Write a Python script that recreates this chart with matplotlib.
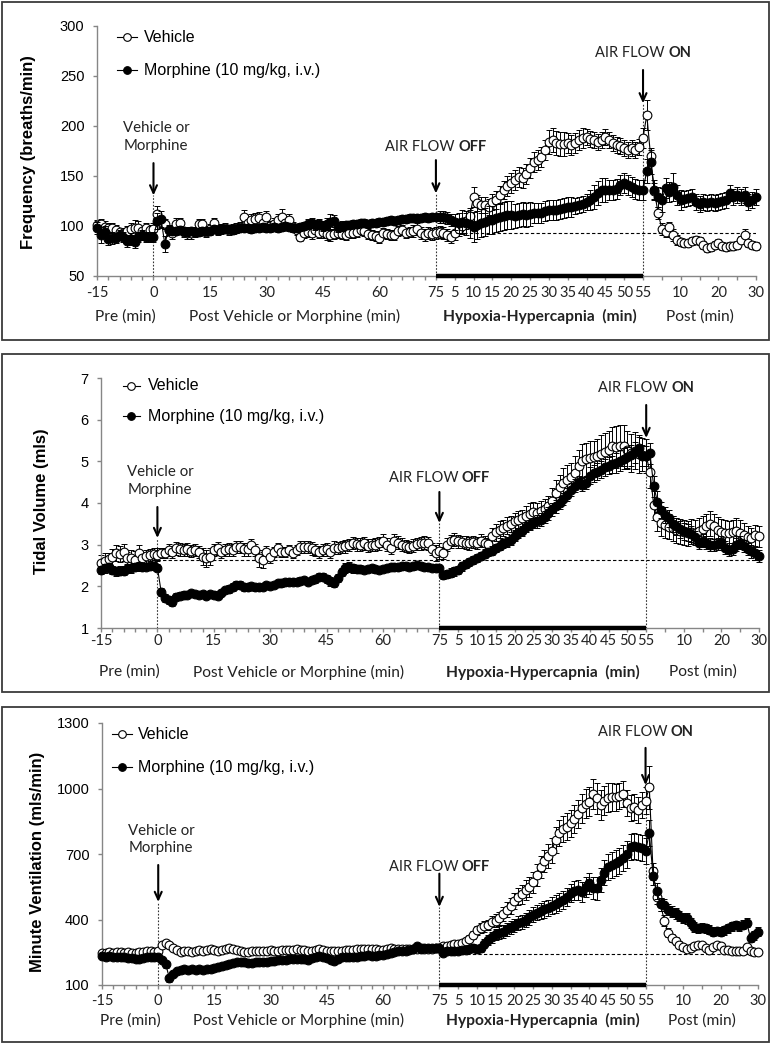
import numpy as np
import matplotlib
matplotlib.use("Agg")
import matplotlib.pyplot as plt
from matplotlib.patches import Rectangle
from matplotlib.lines import Line2D
from matplotlib.transforms import blended_transform_factory, offset_copy

# ---------------- data (one value per minute) ----------------
# index: -15..0 pre, 1..75 post drug, 76..130 hypoxia-hypercapnia (1..55), 131..160 post (1..30)
minutes = np.arange(-15, 161)

freq_vehicle = [
    101, 102, 99, 98, 98, 96, 94, 93, 95, 97, 98, 98, 95, 98, 96, 97,
    112, 104, 102, 96, 93, 102, 103, 94, 93, 93,
    94, 102, 102, 94, 97, 103, 96, 97, 98, 96,
    97, 98, 99, 109, 103, 106, 107, 108, 103, 109,
    100, 102, 106, 109, 103, 106, 99, 96, 89, 93,
    94, 93, 96, 93, 94,
    92, 91, 92, 93, 92, 91, 93, 93, 94, 96,
    95, 92, 91, 90, 88, 93, 92, 91, 91, 95,
    96, 93, 94, 95, 97, 93, 91, 93, 92, 93,
    94, 93, 91, 89, 93, 97, 100, 105, 110, 129,
    123, 121, 121, 119, 124, 126, 131, 136, 140, 143,
    146, 149, 148, 152, 158, 164, 166, 169, 176, 184,
    186, 183, 182, 182, 183, 181, 183, 186, 188, 189,
    187, 186, 184, 186, 189, 186, 183, 181, 180, 178,
    176, 178, 176, 179, 188,
    211, 170, 135, 113, 97, 94, 99, 91, 86, 84,
    83, 83, 85, 86, 85, 81, 78, 79, 81, 83,
    80, 79, 80, 80, 81, 86, 91, 83, 81, 80]
freq_vehicle_sem = [
    5, 5, 6, 5, 5, 5, 4, 5, 5, 6, 8, 7, 5, 5, 5, 6,
    8, 6, 5, 5, 6, 6, 5, 5, 6, 6,
    5, 5, 5, 5, 5, 5, 5, 5, 5, 5,
    5, 5, 5, 7, 6, 6, 6, 6, 6, 6,
    5, 6, 6, 8, 6, 6, 5, 5, 4, 5,
    5, 6, 5, 5, 6,
    6, 6, 5, 5, 5, 5, 5, 5, 5, 5,
    5, 5, 5, 5, 5, 5, 5, 5, 5, 5,
    5, 5, 5, 6, 6, 6, 6, 6, 6, 6,
    6, 6, 6, 6, 7, 7, 7, 8, 8, 10,
    8, 8, 8, 8, 8, 9, 9, 9, 10, 10,
    10, 10, 10, 10, 10, 10, 10, 10, 10, 12,
    12, 12, 12, 12, 10, 10, 10, 10, 10, 8,
    8, 8, 8, 8, 8, 8, 8, 8, 8, 8,
    8, 8, 8, 8, 10,
    15, 8, 8, 6, 6, 5, 5, 6, 5, 4,
    4, 4, 4, 4, 4, 4, 4, 4, 4, 4,
    4, 4, 4, 4, 4, 4, 6, 4, 4, 4]
freq_morphine = [
    98, 91, 94, 87, 88, 88, 91, 89, 85, 87, 84, 89, 91, 89, 89, 89,
    105, 107, 82, 96, 95, 95, 96, 95, 94, 95,
    94, 94, 95, 95, 95, 97, 96, 97, 97, 97,
    96, 97, 98, 98, 98, 97, 98, 98, 99, 98,
    98, 99, 98, 99, 100, 99, 98, 98, 99, 100,
    102, 103, 101, 102, 100,
    102, 104, 105, 99, 100, 101, 101, 102, 102, 103,
    103, 102, 103, 103, 104, 104, 105, 106, 105, 106,
    107, 107, 108, 108, 108, 108, 109, 108, 109, 109,
    109, 109, 108, 106, 104, 103, 104, 103, 102, 99,
    101, 103, 104, 106, 106, 108, 109, 110, 111, 111,
    110, 111, 112, 111, 112, 113, 113, 113, 115, 116,
    116, 116, 117, 118, 119, 119, 120, 121, 122, 124,
    126, 129, 133, 136, 136, 136, 136, 137, 141, 143,
    141, 139, 137, 136, 136,
    155, 164, 136, 129, 126, 138, 134, 139, 131, 126,
    127, 128, 129, 124, 122, 124, 123, 124, 123, 124,
    125, 126, 133, 129, 131, 129, 131, 124, 126, 129]
freq_morphine_sem = [
    6, 8, 6, 6, 6, 5, 5, 5, 6, 6, 6, 5, 5, 5, 5, 5,
    8, 8, 8, 5, 4, 4, 4, 4, 4, 4,
    4, 4, 4, 4, 4, 4, 4, 4, 4, 4,
    4, 4, 4, 4, 4, 4, 4, 4, 4, 4,
    4, 4, 4, 4, 4, 4, 4, 4, 4, 4,
    5, 5, 5, 5, 5,
    6, 8, 6, 5, 5, 4, 4, 4, 4, 4,
    4, 4, 4, 4, 4, 4, 4, 4, 4, 4,
    4, 4, 4, 4, 4, 4, 4, 4, 4, 4,
    6, 6, 6, 6, 8, 10, 12, 12, 14, 15,
    14, 14, 14, 14, 14, 14, 14, 14, 14, 14,
    12, 12, 12, 12, 12, 10, 10, 10, 10, 10,
    10, 10, 10, 10, 10, 10, 8, 8, 8, 8,
    10, 12, 12, 12, 12, 10, 10, 10, 10, 10,
    10, 10, 10, 10, 10,
    12, 12, 10, 10, 12, 10, 10, 14, 10, 10,
    8, 8, 8, 8, 8, 8, 8, 8, 8, 8,
    8, 8, 8, 8, 8, 8, 8, 8, 8, 8]

tv_vehicle = [
    2.55, 2.60, 2.65, 2.70, 2.80, 2.78, 2.82, 2.68, 2.67, 2.64, 2.80, 2.68, 2.72, 2.75, 2.78, 2.76,
    2.79, 2.81, 2.87, 2.83, 2.91, 2.89, 2.87, 2.89, 2.85, 2.87,
    2.83, 2.71, 2.67, 2.71, 2.87, 2.91, 2.83, 2.87, 2.89, 2.87,
    2.95, 2.94, 2.89, 2.89, 2.99, 2.87, 2.67, 2.63, 2.83, 2.71,
    2.83, 2.91, 2.83, 2.83, 2.87, 2.79, 2.87, 2.95, 2.95, 2.94,
    2.91, 2.87, 2.83, 2.87, 2.89,
    2.83, 2.93, 2.92, 2.94, 2.96, 2.99, 3.04, 3.01, 3.00, 3.03,
    2.98, 2.99, 3.00, 3.03, 3.10, 3.00, 2.92, 3.10, 3.05, 3.00,
    2.97, 2.95, 2.98, 3.02, 3.03, 3.05, 3.03, 2.90, 2.80, 2.85,
    2.80, 3.00, 3.08, 3.12, 3.08, 3.07, 3.05, 3.03, 3.06, 3.04,
    3.10, 3.05, 3.02, 3.20, 3.30, 3.36, 3.40, 3.46, 3.50, 3.56,
    3.60, 3.63, 3.68, 3.74, 3.78, 3.76, 3.80, 3.85, 3.92, 4.05,
    4.25, 4.38, 4.48, 4.56, 4.62, 4.72, 4.88, 5.02, 5.05, 5.08,
    5.10, 5.14, 5.18, 5.22, 5.28, 5.37, 5.35, 5.38, 5.38, 5.27,
    5.20, 5.26, 5.18, 5.16, 5.13,
    4.75, 3.95, 3.67, 3.52, 3.47, 3.43, 3.39, 3.35, 3.32, 3.30,
    3.27, 3.31, 3.29, 3.33, 3.38, 3.44, 3.50, 3.44, 3.36, 3.31,
    3.29, 3.27, 3.30, 3.34, 3.29, 3.23, 3.19, 3.15, 3.23, 3.20]
tv_vehicle_sem = [
    0.20, 0.20, 0.15, 0.20, 0.20, 0.20, 0.20, 0.15, 0.20, 0.20, 0.20, 0.15, 0.15, 0.15, 0.15, 0.15,
    0.12, 0.12, 0.15, 0.15, 0.15, 0.15, 0.15, 0.15, 0.15, 0.15,
    0.15, 0.20, 0.20, 0.20, 0.15, 0.15, 0.15, 0.15, 0.15, 0.15,
    0.15, 0.15, 0.15, 0.15, 0.15, 0.15, 0.20, 0.20, 0.15, 0.15,
    0.12, 0.12, 0.12, 0.12, 0.12, 0.12, 0.12, 0.15, 0.15, 0.15,
    0.15, 0.15, 0.15, 0.15, 0.15,
    0.15, 0.15, 0.15, 0.15, 0.15, 0.15, 0.15, 0.15, 0.15, 0.15,
    0.15, 0.15, 0.15, 0.15, 0.15, 0.15, 0.15, 0.15, 0.15, 0.15,
    0.15, 0.15, 0.15, 0.15, 0.15, 0.15, 0.15, 0.15, 0.20, 0.20,
    0.15, 0.15, 0.15, 0.15, 0.15, 0.15, 0.15, 0.15, 0.15, 0.15,
    0.15, 0.15, 0.15, 0.20, 0.20, 0.20, 0.20, 0.20, 0.20, 0.20,
    0.20, 0.20, 0.25, 0.25, 0.25, 0.25, 0.25, 0.25, 0.25, 0.30,
    0.30, 0.30, 0.35, 0.35, 0.35, 0.40, 0.40, 0.40, 0.40, 0.40,
    0.40, 0.40, 0.45, 0.45, 0.45, 0.45, 0.50, 0.50, 0.50, 0.45,
    0.45, 0.45, 0.45, 0.40, 0.40,
    0.40, 0.35, 0.35, 0.30, 0.30, 0.30, 0.30, 0.30, 0.30, 0.30,
    0.30, 0.30, 0.30, 0.30, 0.30, 0.30, 0.30, 0.30, 0.30, 0.30,
    0.30, 0.30, 0.30, 0.30, 0.30, 0.30, 0.25, 0.25, 0.25, 0.25]
tv_morphine = [
    2.39, 2.43, 2.47, 2.40, 2.36, 2.38, 2.38, 2.42, 2.43, 2.46, 2.48, 2.46, 2.47, 2.49, 2.50, 2.45,
    1.87, 1.72, 1.68, 1.62, 1.75, 1.78, 1.80, 1.80, 1.83, 1.82,
    1.80, 1.82, 1.78, 1.82, 1.80, 1.78, 1.84, 1.91, 1.93, 1.98,
    2.03, 2.03, 1.99, 1.98, 2.01, 1.98, 1.98, 1.99, 2.03, 2.01,
    2.03, 2.07, 2.07, 2.10, 2.11, 2.11, 2.11, 2.14, 2.15, 2.11,
    2.15, 2.17, 2.23, 2.22, 2.18,
    2.12, 2.08, 2.20, 2.35, 2.45, 2.46, 2.43, 2.42, 2.41, 2.40,
    2.42, 2.43, 2.41, 2.40, 2.42, 2.44, 2.46, 2.47, 2.46, 2.48,
    2.49, 2.47, 2.48, 2.51, 2.49, 2.47, 2.46, 2.44, 2.45, 2.44,
    2.27, 2.30, 2.33, 2.36, 2.40, 2.48, 2.53, 2.58, 2.63, 2.68,
    2.73, 2.78, 2.83, 2.86, 2.92, 2.98, 3.03, 3.07, 3.12, 3.20,
    3.27, 3.34, 3.42, 3.48, 3.52, 3.56, 3.60, 3.66, 3.75, 3.85,
    3.92, 4.00, 4.10, 4.20, 4.32, 4.42, 4.50, 4.44, 4.48, 4.66,
    4.71, 4.75, 4.80, 4.86, 4.90, 4.93, 4.96, 5.02, 5.06, 5.10,
    5.15, 5.22, 5.33, 5.14, 5.13,
    5.19, 4.40, 4.03, 3.83, 3.71, 3.63, 3.50, 3.44, 3.37, 3.32,
    3.30, 3.26, 3.18, 3.05, 3.10, 3.05, 3.00, 2.99, 3.02, 3.06,
    2.93, 2.88, 2.90, 3.00, 3.05, 2.97, 2.90, 2.84, 2.79, 2.73]
tv_morphine_sem = [
    0.10, 0.10, 0.10, 0.10, 0.10, 0.10, 0.10, 0.10, 0.10, 0.10, 0.10, 0.08, 0.08, 0.08, 0.08, 0.08,
    0.10, 0.10, 0.10, 0.10, 0.08, 0.08, 0.08, 0.08, 0.08, 0.08,
    0.08, 0.08, 0.08, 0.08, 0.08, 0.08, 0.08, 0.08, 0.10, 0.10,
    0.10, 0.10, 0.10, 0.08, 0.08, 0.08, 0.08, 0.08, 0.08, 0.08,
    0.08, 0.08, 0.08, 0.08, 0.08, 0.08, 0.08, 0.08, 0.08, 0.08,
    0.08, 0.08, 0.10, 0.10, 0.10,
    0.10, 0.10, 0.10, 0.10, 0.12, 0.12, 0.10, 0.10, 0.10, 0.08,
    0.08, 0.08, 0.08, 0.08, 0.08, 0.08, 0.08, 0.08, 0.08, 0.08,
    0.08, 0.08, 0.08, 0.08, 0.08, 0.08, 0.08, 0.08, 0.08, 0.08,
    0.10, 0.10, 0.10, 0.10, 0.10, 0.10, 0.10, 0.10, 0.10, 0.10,
    0.10, 0.10, 0.10, 0.10, 0.10, 0.10, 0.10, 0.12, 0.12, 0.12,
    0.12, 0.12, 0.12, 0.12, 0.12, 0.15, 0.15, 0.15, 0.15, 0.15,
    0.15, 0.15, 0.15, 0.15, 0.15, 0.15, 0.15, 0.15, 0.15, 0.20,
    0.20, 0.20, 0.20, 0.20, 0.20, 0.20, 0.25, 0.25, 0.25, 0.25,
    0.25, 0.25, 0.25, 0.25, 0.25,
    0.25, 0.25, 0.25, 0.20, 0.20, 0.20, 0.20, 0.20, 0.20, 0.20,
    0.20, 0.20, 0.15, 0.15, 0.15, 0.15, 0.15, 0.15, 0.15, 0.15,
    0.15, 0.15, 0.15, 0.15, 0.15, 0.15, 0.15, 0.15, 0.15, 0.15]

mv_vehicle = [
    245, 248, 250, 248, 250, 252, 248, 250, 247, 245, 250, 252, 255, 255, 252, 255,
    283, 291, 283, 268, 260, 253, 256, 256, 253, 256,
    260, 256, 260, 265, 260, 256, 260, 265, 268, 265,
    260, 256, 253, 253, 256, 256, 256, 256, 256, 260,
    256, 256, 260, 260, 260, 260, 265, 260, 260, 256,
    256, 260, 265, 260, 258,
    256, 254, 255, 258, 260, 262, 261, 263, 265, 266,
    267, 265, 264, 262, 262, 265, 268, 266, 265, 264,
    264, 263, 265, 267, 268, 267, 265, 266, 268, 270,
    280, 280, 284, 288, 288, 292, 300, 312, 330, 350,
    362, 368, 375, 390, 395, 405, 425, 445, 462, 485,
    505, 515, 535, 548, 570, 605, 640, 668, 690, 715,
    765, 795, 815, 825, 840, 860, 885, 910, 930, 940,
    975, 955, 925, 945, 958, 963, 960, 965, 975, 935,
    910, 915, 902, 925, 945,
    1005, 620, 505, 470, 395, 340, 315, 300, 285, 272,
    266, 270, 280, 284, 285, 268, 262, 276, 283, 278,
    262, 260, 257, 256, 256, 258, 275, 256, 253, 253]
mv_vehicle_sem = [
    10, 10, 10, 10, 10, 10, 10, 10, 10, 10, 10, 10, 10, 10, 10, 12,
    15, 15, 12, 12, 10, 10, 10, 10, 10, 10,
    10, 10, 10, 10, 10, 10, 10, 10, 10, 10,
    10, 10, 10, 10, 10, 10, 10, 10, 10, 10,
    10, 10, 10, 10, 10, 10, 10, 10, 10, 10,
    10, 10, 10, 10, 10,
    10, 10, 10, 10, 10, 10, 10, 10, 10, 10,
    10, 10, 10, 10, 10, 10, 10, 10, 10, 10,
    10, 10, 10, 10, 10, 10, 10, 10, 10, 10,
    12, 12, 12, 12, 12, 14, 15, 16, 18, 20,
    22, 24, 25, 26, 28, 30, 32, 34, 36, 38,
    40, 42, 44, 46, 48, 50, 50, 52, 54, 56,
    60, 60, 60, 62, 62, 64, 64, 66, 66, 68,
    70, 70, 68, 66, 66, 64, 62, 60, 60, 60,
    58, 58, 58, 58, 60,
    100, 40, 35, 30, 25, 22, 20, 18, 16, 15,
    14, 14, 14, 14, 14, 14, 14, 14, 14, 14,
    14, 14, 14, 12, 12, 12, 12, 12, 12, 12]
mv_morphine = [
    232, 230, 232, 228, 230, 226, 228, 225, 222, 220, 218, 225, 228, 226, 228, 230,
    215, 195, 130, 150, 162, 168, 172, 170, 172, 170,
    172, 170, 173, 175, 177, 182, 187, 192, 196, 199,
    204, 207, 206, 200, 202, 205, 206, 207, 207, 208,
    210, 213, 215, 215, 217, 219, 219, 221, 218, 216,
    222, 228, 233, 228, 222,
    215, 208, 218, 228, 228, 226, 226, 230, 232, 234,
    236, 235, 234, 236, 238, 242, 246, 251, 254, 256,
    258, 262, 266, 278, 266, 268, 268, 268, 270, 271,
    245, 258, 254, 256, 258, 260, 262, 265, 268, 265,
    270, 290, 306, 318, 332, 340, 345, 356, 365, 372,
    382, 388, 398, 410, 421, 432, 440, 447, 452, 463,
    470, 480, 490, 502, 520, 532, 535, 528, 548, 566,
    545, 543, 580, 615, 640, 650, 657, 668, 680, 698,
    732, 735, 732, 728, 712,
    795, 600, 530, 470, 465, 445, 436, 428, 415, 407,
    405, 385, 365, 360, 362, 360, 353, 345, 347, 344,
    350, 360, 368, 375, 368, 377, 385, 315, 328, 345]
mv_morphine_sem = [
    10, 10, 10, 10, 10, 10, 10, 10, 10, 10, 10, 10, 10, 10, 10, 10,
    15, 15, 15, 12, 12, 10, 10, 10, 10, 10,
    10, 10, 10, 10, 10, 10, 10, 10, 10, 10,
    10, 10, 10, 10, 10, 10, 10, 10, 10, 10,
    10, 10, 10, 10, 10, 10, 10, 10, 10, 10,
    10, 10, 10, 10, 10,
    10, 12, 12, 10, 10, 10, 10, 10, 10, 10,
    10, 10, 10, 10, 10, 10, 10, 10, 10, 10,
    10, 10, 10, 12, 12, 12, 12, 12, 12, 12,
    14, 14, 14, 14, 14, 15, 16, 16, 18, 18,
    20, 22, 24, 26, 26, 28, 28, 30, 30, 30,
    32, 32, 34, 34, 34, 36, 36, 38, 38, 40,
    40, 40, 42, 42, 42, 44, 44, 46, 46, 48,
    50, 52, 54, 56, 58, 60, 60, 60, 60, 60,
    60, 60, 60, 60, 60,
    60, 40, 35, 30, 28, 26, 26, 26, 24, 24,
    24, 22, 22, 20, 20, 20, 20, 20, 20, 20,
    20, 20, 20, 20, 20, 20, 20, 20, 20, 20]

# x axis ticks / labels
xtick_positions = list(range(-15, 76, 3)) + list(range(80, 131, 5)) + list(range(135, 161, 5))
xlabel_positions = [-15, 0, 15, 30, 45, 60, 75, 80, 85, 90, 95, 100, 105, 110, 115, 120, 125, 130, 140, 150, 160]
xlabel_texts = ['-15', '0', '15', '30', '45', '60', '75', '5', '10', '15', '20', '25', '30',
                '35', '40', '45', '50', '55', '10', '20', '30']
period_labels = [(-7.5, 'Pre (min)', 'normal'),
                 (37.5, 'Post Vehicle or Morphine (min)', 'normal'),
                 (102.5, 'Hypoxia-Hypercapnia  (min)', 'bold'),
                 (145, 'Post (min)', 'normal')]
drug_time, hypoxia_start, hypoxia_end = 0, 75, 130

# ---------------- figure ----------------
W, H = 771, 1048
fig = plt.figure(figsize=(W / 100, H / 100), dpi=100)
ARIAL = 'Liberation Sans'
CAL = 'Lato'
GRAY = '#868686'

panels = [
    dict(veh=freq_vehicle, veh_e=freq_vehicle_sem, mor=freq_morphine, mor_e=freq_morphine_sem,
         box=(2, 2, 769, 340), ax=(97, 25.7, 756, 276), ylim=(50, 300), yticks=[50, 100, 150, 200, 250, 300],
         ylabel='Frequency (breaths/min)', ylab_xy=(-0.093, 0.495),
         leg=(0.030, 0.061, 0.071, 0.953, 0.822),
         vm_text=0.555, vm_arrow=(0.451, 0.322),
         off_text=0.515, off_arrow=(0.463, 0.330),
         on_text=0.891, on_arrow=(0.823, 0.690),
         dash=(93, 75), tickpad=4.0, row2=-0.160),
    dict(veh=tv_vehicle, veh_e=tv_vehicle_sem, mor=tv_morphine, mor_e=tv_morphine_sem,
         box=(2, 354, 769, 692), ax=(101, 378, 759, 628), ylim=(1, 7), yticks=[1, 2, 3, 4, 5, 6, 7],
         ylabel='Tidal Volume (mls)', ylab_xy=(-0.079, 0.508),
         leg=(0.033, 0.059, 0.071, 0.968, 0.848),
         vm_text=0.588, vm_arrow=(0.484, 0.360),
         off_text=0.600, off_arrow=(0.544, 0.420),
         on_text=0.960, on_arrow=(0.892, 0.760),
         dash=(2.64, 0), tickpad=1.5, row2=-0.176),
    dict(veh=mv_vehicle, veh_e=mv_vehicle_sem, mor=mv_morphine, mor_e=mv_morphine_sem,
         box=(2, 707, 769, 1042), ax=(102, 723, 758, 985), ylim=(100, 1300), yticks=[100, 400, 700, 1000, 1300],
         ylabel='Minute Ventilation (mls/min)', ylab_xy=(-0.087, 0.469),
         leg=(0.015, 0.046, 0.055, 0.958, 0.832),
         vm_text=0.555, vm_arrow=(0.458, 0.317),
         off_text=0.450, off_arrow=(0.425, 0.298),
         on_text=0.966, on_arrow=(0.905, 0.763),
         dash=(242, 75), tickpad=3.5, row2=-0.134),
]


def mixed_text(ax, trans, x, y, parts, fs):
    texts = [ax.text(x, y, s, transform=trans, ha='left', va='center', fontsize=fs,
                     family=CAL, fontweight=w, color='#222222') for s, w in parts]
    fig.canvas.draw()
    r = fig.canvas.get_renderer()
    widths = [tx.get_window_extent(r).width for tx in texts]
    gap = fs * 100 / 72 * 0.23
    total = sum(widths) + gap * (len(widths) - 1)
    off = -total / 2
    for tx, w in zip(texts, widths):
        tx.set_transform(offset_copy(trans, fig=fig, x=off, y=0, units='dots'))
        off += w + gap


for p in panels:
    bl, bt, br, bb = p['box']
    fig.add_artist(Rectangle((bl / W, 1 - bb / H), (br - bl) / W, (bb - bt) / H,
                             transform=fig.transFigure, fill=False, lw=1.3, ec='#3a3a3a'))
    l, t, r, b = p['ax']
    ax = fig.add_axes([l / W, 1 - b / H, (r - l) / W, (b - t) / H])
    ax.set_xlim(-15, 160)
    ax.set_ylim(*p['ylim'])
    for s in ('top', 'right'):
        ax.spines[s].set_visible(False)
    for s in ('left', 'bottom'):
        ax.spines[s].set_color(GRAY)
        ax.spines[s].set_linewidth(1.0)
    ax.set_yticks(p['yticks'])
    ax.set_yticklabels([str(v) for v in p['yticks']], fontsize=10.5, family=ARIAL)
    labels = [xlabel_texts[xlabel_positions.index(v)] if v in xlabel_positions else '' for v in xtick_positions]
    ax.set_xticks(xtick_positions)
    ax.set_xticklabels(labels, fontsize=10.5, family=CAL, color='#222222')
    ax.tick_params(axis='y', direction='out', length=3, width=1, color=GRAY, pad=6)
    ax.tick_params(axis='x', direction='out', length=3, width=1, color=GRAY, pad=p['tickpad'])
    ax.set_ylabel(p['ylabel'], fontsize=12, family=ARIAL, fontweight='bold')
    ax.yaxis.set_label_coords(*p['ylab_xy'])

    tr = blended_transform_factory(ax.transData, ax.transAxes)

    # baseline dashed reference line
    dval, dstart = p['dash']
    ax.plot([dstart, 160], [dval, dval], ls=(0, (3, 2)), lw=0.8, color='black', zorder=1)

    # series
    ax.errorbar(minutes, p['veh'], yerr=p['veh_e'], fmt='none', ecolor='black', elinewidth=0.7,
                capsize=2.2, capthick=0.7, zorder=2, clip_on=False)
    ax.plot(minutes, p['veh'], '-', color='black', lw=0.8, marker='o', ms=6.3, mfc='white',
            mec='black', mew=0.8, zorder=3, clip_on=False)
    ax.errorbar(minutes, p['mor'], yerr=p['mor_e'], fmt='none', ecolor='black', elinewidth=0.7,
                capsize=2.2, capthick=0.7, zorder=4, clip_on=False)
    ax.plot(minutes, p['mor'], '-', color='black', lw=0.8, marker='o', ms=6.3, mfc='black',
            mec='black', mew=0.8, zorder=5, clip_on=False)

    # hypoxia bar along the axis
    ax.plot([hypoxia_start, hypoxia_end], [p['ylim'][0]] * 2, lw=3.2, color='black',
            solid_capstyle='butt', clip_on=False, zorder=6)

    # vertical dotted lines + arrows + labels
    for xv, (tail, tip) in ((drug_time, p['vm_arrow']), (hypoxia_start, p['off_arrow']),
                            (hypoxia_end, p['on_arrow'])):
        ax.plot([xv, xv], [0, tip], transform=tr, ls=(0, (1.5, 1.5)), lw=0.8, color='#333333', zorder=1)
        ax.annotate('', xy=(xv, tip), xytext=(xv, tail), xycoords=tr, textcoords=tr,
                    arrowprops=dict(arrowstyle='->,head_length=0.55,head_width=0.25', lw=1.5,
                                    color='black', shrinkA=0, shrinkB=0))
    ax.text(-8, p['vm_text'], 'Vehicle or\nMorphine', transform=tr, ha='left', va='center',
            fontsize=10.8, family=CAL, linespacing=1.3, color='#222222')
    mixed_text(ax, tr, hypoxia_start, p['off_text'], [('AIR FLOW', 'normal'), ('OFF', 'bold')], 10.5)
    mixed_text(ax, tr, hypoxia_end, p['on_text'], [('AIR FLOW', 'normal'), ('ON', 'bold')], 10.5)

    # period labels under the axis
    for xc, txt, wt in period_labels:
        ax.text(xc, p['row2'], txt, transform=tr, ha='center', va='center', fontsize=11.2,
                family=CAL, fontweight=wt, color='#222222')

    # legend (drawn by hand)
    x0, x1, xt, yv, ym = p['leg']
    at = ax.transAxes
    for yy, face, name in ((yv, 'white', 'Vehicle'), (ym, 'black', 'Morphine (10 mg/kg, i.v.)')):
        ax.add_line(Line2D([x0, x1], [yy, yy], transform=at, color='black', lw=0.8, clip_on=False))
        ax.add_line(Line2D([(x0 + x1) / 2], [yy], transform=at, marker='o', ms=5.5, mfc=face,
                           mec='black', mew=0.8, clip_on=False))
        ax.text(xt, yy, name, transform=at, ha='left', va='center', fontsize=11.5, family=ARIAL)

fig.savefig('out.png', dpi=100)
